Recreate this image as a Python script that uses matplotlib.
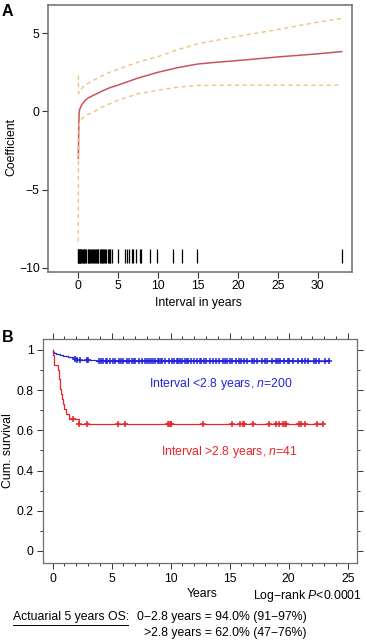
import numpy as np
import matplotlib.pyplot as plt

plt.rcParams['font.family'] = ['Liberation Sans', 'DejaVu Sans']
plt.rcParams['mathtext.fontset'] = 'custom'
plt.rcParams['mathtext.rm'] = 'Liberation Sans'
plt.rcParams['mathtext.it'] = 'Liberation Sans:italic'

## Panel A: time-varying coefficient
coef_x = [0.04, 0.07, 0.13, 0.2, 0.33, 0.5, 0.88, 1.3, 1.9, 3, 4, 5, 7.5, 10, 12.5, 15, 17.5, 20, 25, 30, 33]
coef_y = [-3.0, -1.8, -0.13, 0.12, 0.28, 0.45, 0.7, 0.87, 1.02, 1.3, 1.52, 1.68, 2.13, 2.5, 2.8, 3.03, 3.15, 3.25, 3.48, 3.68, 3.82]
upper_x = [0.04, 0.06, 0.1, 0.25, 0.6, 1.2, 1.9, 3, 4, 5, 7.5, 10, 12.5, 15, 20, 25, 30, 33]
upper_y = [2.3, 1.2, 1.15, 1.34, 1.55, 1.78, 1.98, 2.28, 2.51, 2.7, 3.15, 3.5, 3.95, 4.32, 4.8, 5.23, 5.7, 5.94]
lower_x = [0.02, 0.05, 0.15, 0.46, 1, 1.9, 3, 4, 5, 7.5, 10, 12.5, 15, 20, 25, 33]
lower_y = [-8.3, -3.0, -0.8, -0.47, -0.25, -0.04, 0.28, 0.49, 0.72, 1.13, 1.36, 1.55, 1.66, 1.68, 1.68, 1.68]
rug = [0.0, 0.05, 0.1, 0.15, 0.2, 0.25, 0.3, 0.4, 0.5, 0.6, 0.7, 0.8, 0.9, 1.0,
       1.2, 1.3, 1.4, 1.5, 1.6, 1.7, 1.85,
       2.05, 2.15, 2.25, 2.35, 2.45, 2.55, 2.7,
       2.85, 2.95, 3.05, 3.15, 3.25, 3.35, 3.5,
       3.75, 3.85, 3.95, 4.05, 4.2,
       4.97, 5.93, 6.18, 6.43, 6.73, 6.93, 7.27, 7.8, 7.9,
       9.0, 9.94, 11.95, 13.0, 14.9, 33.0]

## Panel B: Kaplan-Meier
blue_n = 200
blue_events = [0.02, 0.05, 0.09, 0.3, 0.6, 0.9, 1.3, 1.7, 1.85, 2.0, 3.7]
blue_cens = [1.9, 2.1, 2.3, 2.9, 3.0, 3.9, 4.1, 4.3, 4.5, 4.6, 4.9, 5.1, 5.3, 5.6, 5.8,
             6.0, 6.3, 6.5, 6.7, 6.9, 7.0, 7.3, 7.6, 7.8, 8.0, 8.2, 8.3, 8.5, 8.7,
             8.9, 9.0, 9.2, 9.3, 9.5, 9.9, 10.1, 10.3, 10.5, 10.6, 10.8, 11.0, 11.2,
             11.4, 11.5, 11.7, 12.0, 12.2, 12.5, 12.6, 12.8, 13.0, 13.3, 13.6, 13.8,
             14.1, 14.4, 14.6, 14.8, 15.0, 15.2, 15.5, 15.8, 16.0, 16.2, 16.5, 16.9,
             17.1, 17.3, 17.7, 18.0, 18.2, 18.6, 18.9, 19.1, 19.3, 19.6, 19.9, 20.0,
             20.4, 20.8, 21.1, 21.4, 21.6, 22.1, 22.3, 22.6, 23.1, 23.4]
red_events = [0.03, 0.1, 0.12, 0.45, 0.5, 0.58, 0.62, 0.66, 0.72, 0.8, 0.88, 0.98, 1.1, 1.4, 2.2]
red_cens = [1.75, 2.2, 2.9, 5.5, 6.1, 9.8, 9.9, 10.0, 10.05, 12.7, 15.2, 15.9, 16.1, 16.2,
            17.0, 18.3, 18.9, 19.2, 19.5, 19.7, 19.8, 20.9, 21.0, 21.4, 22.4, 22.9]
red_n = len(red_events) + len(red_cens)


def km(n, events, cens):
    events = np.array(events)
    cens = np.array(cens)
    xs, ys = [0.0], [1.0]
    s = 1.0
    for t in np.unique(events):
        at_risk = n - np.sum(events < t) - np.sum(cens < t)
        d = np.sum(events == t)
        s *= 1 - d / at_risk
        xs.append(t)
        ys.append(s)
    xs.append(max(cens.max(), events.max()))
    ys.append(s)
    xs, ys = np.array(xs), np.array(ys)
    cy = ys[np.searchsorted(xs, cens, side='right') - 1]
    return xs, ys, cy


W, H = 366, 641
fig = plt.figure(figsize=(W / 100, H / 100), dpi=100)


def fx(px):
    return px / W


def fy(py):
    return 1 - py / H


box_col = '#6e6e6e'
fs = 8.8

## --- A ---
axA = fig.add_axes([fx(48), fy(272), fx(352) - fx(48), fy(5) - fy(272)])
axA.plot(coef_x, coef_y, color='#c9545e', lw=1.1)
axA.plot(upper_x, upper_y, color='#efc27f', lw=1.0, ls=(0, (3, 2.5)))
axA.plot(lower_x, lower_y, color='#efc27f', lw=1.0, ls=(0, (3, 2.5)))
axA.vlines(rug, -9.7, -8.8, color='black', lw=0.9)
axA.set_xlim(-3.76, 34.3)
axA.set_ylim(-10.26, 6.8)
axA.set_xticks([0, 5, 10, 15, 20, 25, 30])
axA.set_yticks([5, 0, -5, -10])
for s in axA.spines.values():
    s.set_color(box_col)
    s.set_linewidth(1.1)
axA.tick_params(direction='out', length=4, width=0.8, color='#333333',
                labelsize=fs, pad=2)
fig.text(fx(198), fy(303), 'Interval in years', ha='center', va='center', fontsize=fs)
fig.text(fx(11), fy(147), 'Coefficient', ha='center', va='center', fontsize=fs, rotation=90)
fig.text(fx(2), fy(12), 'A', ha='left', va='center', fontsize=11.5, fontweight='bold')

## --- B ---
axB = fig.add_axes([fx(43.3), fy(563), fx(357.3) - fx(43.3), fy(339.3) - fy(563)])
bx, by, bcy = km(blue_n, blue_events, blue_cens)
rx, ry, rcy = km(red_n, red_events, red_cens)
axB.plot(bx, by, drawstyle='steps-post', color='#2424d8', lw=0.9)
axB.plot(blue_cens, bcy, '+', color='#2424d8', ms=5, mew=1.1)
axB.plot(rx, ry, drawstyle='steps-post', color='#e8232b', lw=0.9)
axB.plot(red_cens, rcy, '+', color='#e8232b', ms=5, mew=1.1)
axB.set_xlim(-0.79, 25.81)
axB.set_ylim(-0.06, 1.053)
axB.set_xticks([0, 5, 10, 15, 20, 25])
axB.set_xticks(np.arange(0, 26, 1), minor=True)
axB.set_yticks([0, 0.2, 0.4, 0.6, 0.8, 1])
axB.set_yticklabels(['0', '0.2', '0.4', '0.6', '0.8', '1'])
axB.set_yticks(np.arange(0, 1.01, 0.1), minor=True)
for s in axB.spines.values():
    s.set_color(box_col)
    s.set_linewidth(0.9)
axB.tick_params(which='both', direction='out', top=True, right=True,
                color='#333333', width=0.7, labelsize=fs, pad=3)
axB.tick_params(which='major', length=4)
axB.tick_params(which='minor', length=2.5)
axB.text(14.3, 0.83, r'Interval <2.8 years, $\it{n}$=200', color='#2424d8',
         ha='center', va='center', fontsize=fs)
axB.text(15.0, 0.49, r'Interval >2.8 years, $\it{n}$=41', color='#e8232b',
         ha='center', va='center', fontsize=fs)
fig.text(fx(8), fy(451), 'Cum. survival', ha='center', va='center', fontsize=fs, rotation=90)
fig.text(fx(2), fy(338), 'B', ha='left', va='center', fontsize=11.5, fontweight='bold')
fig.text(fx(202), fy(594), 'Years', ha='center', va='center', fontsize=fs)
fig.text(fx(362), fy(596), r'Log−rank $\it{P}$<0.0001', ha='right', va='center', fontsize=fs)
fig.text(fx(13), fy(617), 'Actuarial 5 years OS:', ha='left', va='center', fontsize=fs)
fig.add_artist(plt.Line2D([fx(13), fx(128)], [fy(624.5), fy(624.5)], color='black', lw=0.7))
fig.text(fx(307), fy(617), '0−2.8 years = 94.0% (91−97%)', ha='right', va='center', fontsize=fs)
fig.text(fx(307), fy(633), '>2.8 years = 62.0% (47−76%)', ha='right', va='center', fontsize=fs)

fig.savefig('out.png', dpi=100)
